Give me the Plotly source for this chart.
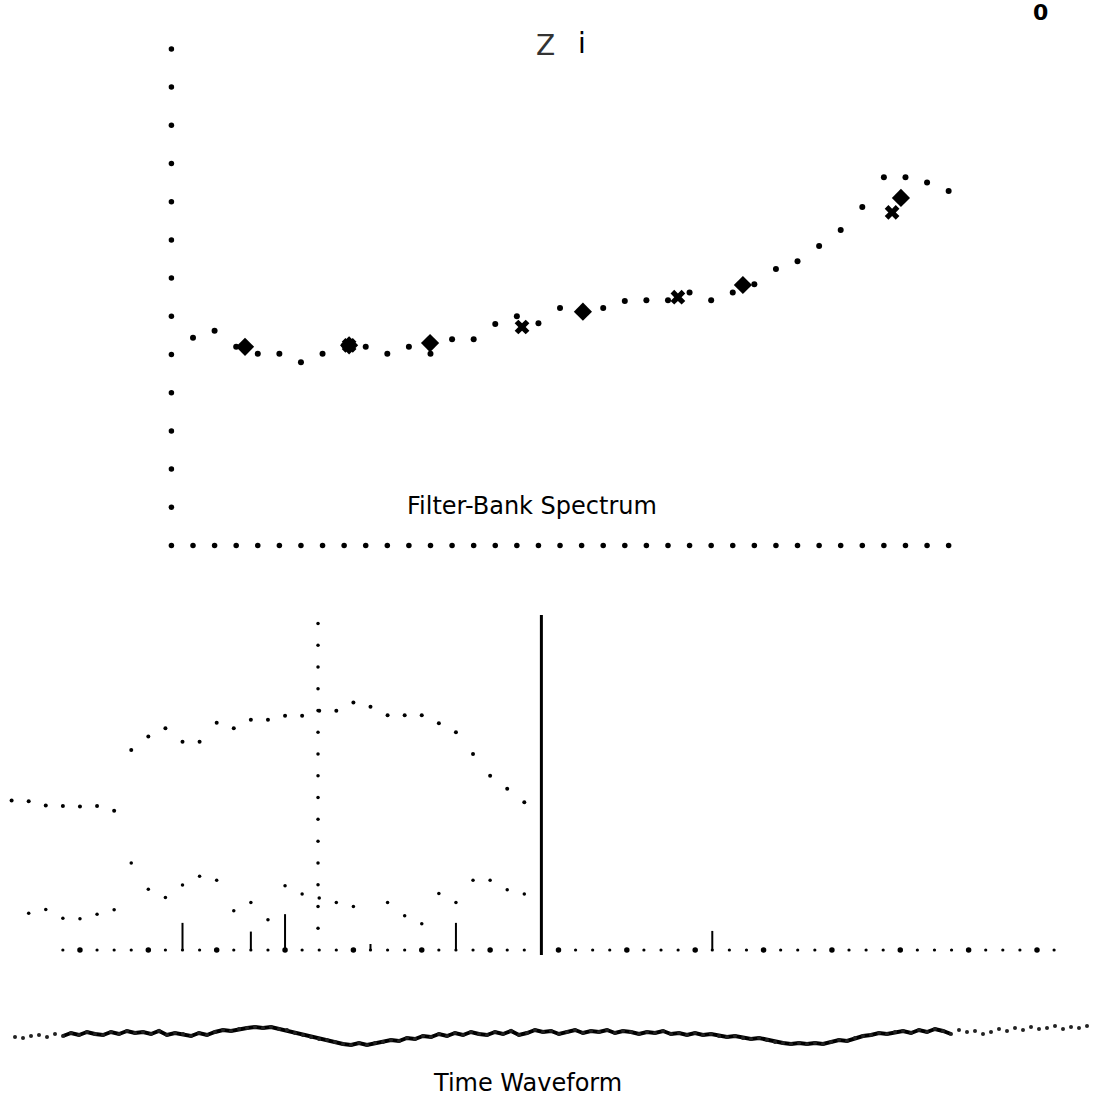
import plotly.graph_objects as go

W, H = 1095, 1098

# ---------------- Filter-bank spectrum (top panel) ----------------
channels = list(range(36))
spectrum_db = [27.2, 28.1, 26.0, 25.1, 25.1, 24.0, 25.1, 26.2, 26.0, 25.1,
               26.0, 25.1, 27.0, 27.0, 29.0, 30.0, 29.1, 31.1, 30.6, 31.1,
               32.0, 32.1, 32.1, 33.1, 32.1, 33.1, 34.2, 36.2, 37.2, 39.2,
               41.3, 44.3, 48.2, 48.2, 47.5, 46.4]
peak_a_ch = [2.41, 7.23, 10.98, 18.06, 25.47, 32.79]
peak_a_db = [26.0, 26.2, 26.5, 30.6, 34.1, 45.5]
peak_b_ch = [7.23, 15.24, 22.46, 32.38]
peak_b_db = [26.2, 28.6, 32.5, 43.6]
level_ticks_db = [5, 10, 15, 20, 25, 30, 35, 40, 45, 50, 55, 60, 65]
freq_ticks_ch = list(range(-1, 36))

# ---------------- Middle panel (frame tracks) ----------------
frame_idx = list(range(31))
upper_track = [44.6, 44.4, 43.1, 43.0, 42.8, 43.0, 41.6, 59.7, 63.7, 66.2,
               62.2, 62.2, 67.8, 66.2, 68.7, 68.7, 69.9, 69.9, 71.4, 71.4,
               73.9, 72.6, 70.1, 70.1, 70.1, 67.7, 65.0, 58.5, 52.0, 48.1, 44.1]
lower_track = [None, 11.0, 12.1, 9.5, 9.3, 10.7, 12.0, 26.0, 18.1, 15.7,
               19.4, 22.0, 20.8, 11.7, 14.2, 9.0, 19.2, 16.7, 15.5, 14.2,
               13.0, None, 14.2, 10.2, 7.8, 16.9, 14.2, 20.8, 20.8, 18.0, 16.7]
cursor_pos = 17.93
cursor_levels = [6.5, 13.0, 19.5, 26.0, 32.5, 39.0, 45.5, 52.0, 58.5, 65.0,
                 71.5, 78.0, 84.5, 91.0, 97.5]
time_ticks = [i for i in range(3, 62) if i != 31]
pulse_idx = [10, 14, 16, 21, 26, 41]
pulse_height = [8.1, 5.5, 10.7, 1.8, 8.1, 5.7]
frame_mark = 31
frame_mark_top = 100.0
frame_mark_bottom = -1.5

# ---------------- Time waveform (bottom) ----------------
wave = [0, -1, 1, 2, 0, 3, 1, 4, 2, 5, 3, 2, 5, 3, 6, 4, 5, 3, 6, 2,
        4, 3, 1, 4, 2, 5, 7, 6, 8, 9, 10, 9, 10, 8, 7, 4, 2, 0, -2, -3,
        -5, -7, -8, -6, -8, -6, -5, -3, -4, -1, -2, 1, 0, 3, 1, 4, 2, 5, 3, 2,
        5, 3, 6, 2, 4, 7, 5, 6, 3, 5, 7, 4, 6, 5, 7, 4, 6, 5, 3, 5,
        4, 6, 3, 4, 2, 4, 2, 3, 1, 0, 1, -1, -2, -1, -3, -5, -6, -7, -6, -7,
        -6, -7, -5, -3, -4, -1, 1, 2, 4, 3, 5, 6, 4, 7, 5, 8, 6, 3, 7, 5,
        6, 3, 5, 8, 6, 9, 7, 10, 8, 9, 11, 8, 10, 9, 11]
samples = list(range(len(wave)))
dense_start, dense_end = 6, 118

fig = go.Figure()

def dots(x, y, size, xa, ya, symbol="circle", color="black"):
    fig.add_trace(go.Scatter(x=x, y=y, mode="markers", xaxis=xa, yaxis=ya,
                             marker=dict(color=color, size=size, symbol=symbol, opacity=1,
                                         line=dict(width=0))))

# top panel
dots([-1] * len(level_ticks_db), level_ticks_db, 5.5, "x", "y")
dots(freq_ticks_ch, [0] * len(freq_ticks_ch), 5.5, "x", "y")
dots(channels, spectrum_db, 6, "x", "y")
dots(peak_a_ch, peak_a_db, 14, "x", "y", symbol="diamond")
dots(peak_b_ch, peak_b_db, 13, "x", "y", symbol="x")

# middle panel
dots(frame_idx, upper_track, 4, "x2", "y2")
dots(frame_idx, lower_track, 3.5, "x2", "y2")
dots([cursor_pos] * len(cursor_levels), cursor_levels, 3.5, "x2", "y2")
major_ticks = [i for i in time_ticks if i % 4 == 0]
minor_ticks = [i for i in time_ticks if i % 4 != 0]
dots(major_ticks, [0] * len(major_ticks), 5.5, "x2", "y2")
dots(minor_ticks, [0] * len(minor_ticks), 3.2, "x2", "y2")
px_, py_ = [], []
for i, h in zip(pulse_idx, pulse_height):
    px_ += [i, i, None]
    py_ += [0, h, None]
fig.add_trace(go.Scatter(x=px_, y=py_, mode="lines", line=dict(color="black", width=2),
                         xaxis="x2", yaxis="y2"))
fig.add_trace(go.Scatter(x=[frame_mark, frame_mark], y=[frame_mark_bottom, frame_mark_top],
                         mode="lines", line=dict(color="black", width=3), xaxis="x2", yaxis="y2"))

# waveform
fig.add_trace(go.Scatter(x=samples[dense_start:dense_end], y=wave[dense_start:dense_end], mode="lines",
                         line=dict(color="black", width=4), xaxis="x3", yaxis="y3"))
dots(samples, wave, 4, "x3", "y3", color="#222")

ax = dict(visible=False, fixedrange=True, domain=[0, 1])
fig.update_layout(
    width=W, height=H, autosize=False,
    margin=dict(l=0, r=0, t=0, b=0, pad=0),
    paper_bgcolor="white", plot_bgcolor="rgba(0,0,0,0)",
    showlegend=False,
    xaxis=dict(**ax, range=[-193 / 21.59, (W - 193) / 21.59], anchor="y"),
    yaxis=dict(**ax, range=[(545.5 - H) / 7.64, 545.5 / 7.64], anchor="x"),
    xaxis2=dict(**ax, range=[-11.6 / 17.09, (W - 11.6) / 17.09], anchor="y2"),
    yaxis2=dict(**ax, range=[(950 - H) / 3.35, 950 / 3.35], anchor="x2"),
    xaxis3=dict(**ax, range=[-15 / 8, (W - 15) / 8], anchor="y3"),
    yaxis3=dict(**ax, range=[1037 - H, 1037], anchor="x3"),
)

def ann(text, xpx, ypx, size, color="black"):
    fig.add_annotation(text=text, x=xpx / W, y=1 - ypx / H, xref="paper", yref="paper",
                       showarrow=False, xanchor="center", yanchor="middle",
                       font=dict(family="DejaVu Sans", size=size, color=color))

ann("Filter-Bank Spectrum", 532, 506, 24)
ann("Time Waveform", 527, 1083, 24)
ann("Z", 545, 45, 28, color="#333")
ann("i", 582, 44, 28)
ann("<b>0</b>", 1040, 13, 22)

fig.write_html("out.html", config={"displayModeBar": False})
